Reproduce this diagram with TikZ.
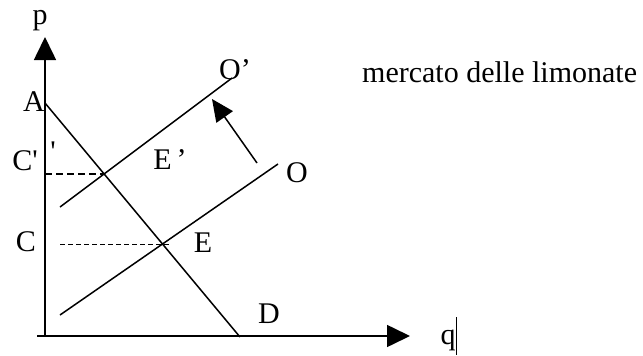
\documentclass[tikz,border=0pt]{standalone}
\usepackage{fontspec}
\setmainfont{Liberation Serif}
\usetikzlibrary{arrows.meta}
\begin{document}
\begin{tikzpicture}[x=1pt,y=-1pt,
  lbl/.style={inner sep=0pt,font=\fontsize{30}{33}\selectfont},
  axis/.style={line width=1.6pt,-{Triangle[length=23pt,width=22pt]}},
  curve/.style={line width=1.5pt},
  shiftarrow/.style={line width=1.5pt,-{Triangle[length=22pt,width=20pt]}}]
\useasboundingbox (0,0) rectangle (643,356);
% axes
\coordinate (O0) at (45,336);
\coordinate (ytop) at (45,37);
\coordinate (xl) at (37,336);
\coordinate (xtop) at (410,336);
\draw[axis] (O0) -- (ytop);
\draw[axis] (xl) -- (xtop);
% demand
\coordinate (Ad) at (45,103);
\coordinate (Dd) at (240,337);
\draw[curve] (Ad) -- (Dd);
% supply O and O'
\coordinate (S1) at (60,315);
\coordinate (S2) at (278,164);
\coordinate (T1) at (60,207);
\coordinate (T2) at (232,78);
\draw[curve] (S1) -- (S2);
\draw[curve] (T1) -- (T2);
% equilibria
\coordinate (E) at (intersection of Ad--Dd and S1--S2);
\coordinate (Ep) at (intersection of Ad--Dd and T1--T2);
\coordinate (Cend) at (170,0);
\coordinate (Cstart) at (60,0);
\draw[line width=2.4pt,dash pattern=on 7pt off 4pt] (Ep -| O0) -- (Ep);
\draw[line width=1pt,dash pattern=on 5pt off 3pt] (E -| Cstart) -- (E -| Cend);
% shift arrow
\coordinate (sh1) at (257,163);
\coordinate (sh2) at (212,99);
\draw[shiftarrow] (sh1) -- (sh2);
% labels
\node[lbl] (p) at (40,21) {p};
\node[lbl] (q) at (448,340) {q};
\coordinate (cur1) at (456,317);
\coordinate (cur2) at (456,355);
\draw[line width=0.9pt] (cur1) -- (cur2);
\node[lbl] (A) at (34,102) {A};
\node[lbl] (Cp) at (25,161) {C\textquotesingle};
\node[lbl] (prime) at (53,152) {\textquotesingle};
\node[lbl] (C) at (26,242) {C};
\node[lbl] (El) at (203,243) {E};
\node[lbl] (Epl) at (170,160) {E\,’};
\node[lbl] (Ol) at (297,173) {O};
\node[lbl] (Opl) at (235,70) {O’};
\node[lbl] (Dl) at (269,314) {D};
\node[lbl,anchor=base west] (title) at (362,82) {mercato delle limonate};
\end{tikzpicture}
\end{document}
